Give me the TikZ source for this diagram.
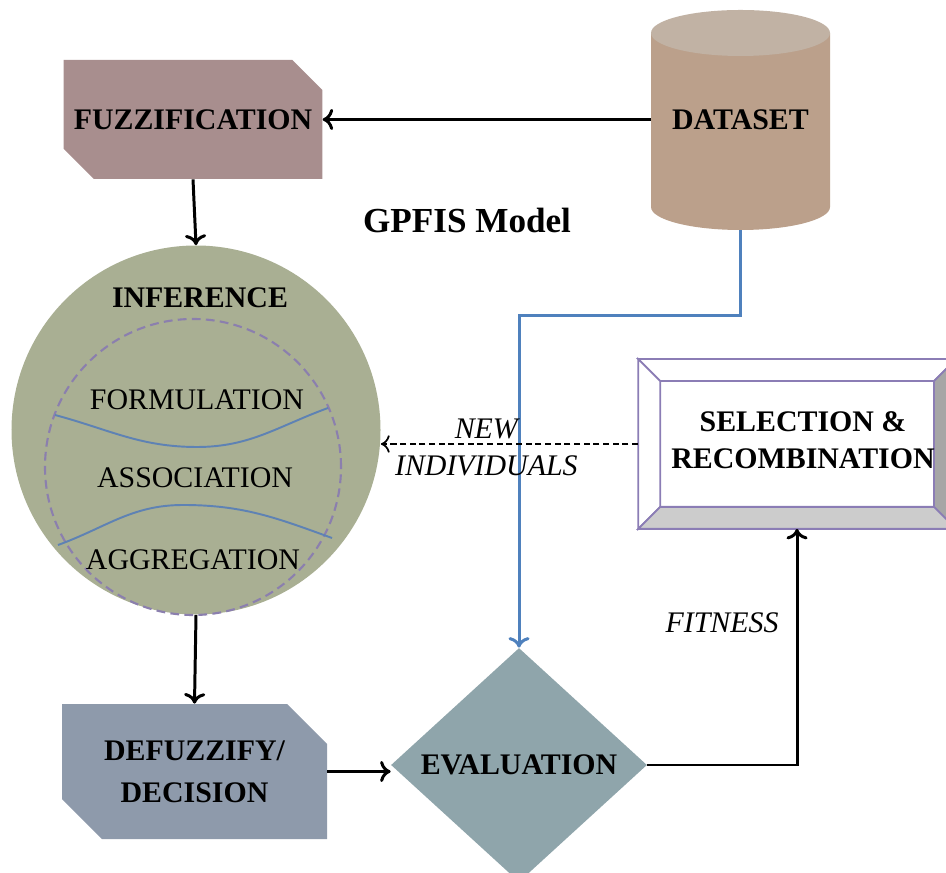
\documentclass[tikz,border=0pt]{standalone}
\usepackage{fontspec}
\setmainfont{Liberation Serif}
\usepackage{xcolor}
\usepackage{tikz}
\usetikzlibrary{shapes.geometric}
\usetikzlibrary{shapes.misc}
\usetikzlibrary{arrows.meta}

\definecolor{fuzzcol}{HTML}{A88E8E}
\definecolor{datacol}{HTML}{BBA08B}
\definecolor{datatop}{HTML}{C1B2A4}
\definecolor{infcol}{HTML}{A9AF93}
\definecolor{dashcol}{HTML}{8B7FAE}
\definecolor{curvecol}{HTML}{5E82B4}
\definecolor{bluecol}{HTML}{4F81BD}
\definecolor{defcol}{HTML}{8E9AAB}
\definecolor{evalcol}{HTML}{8FA5AB}
\definecolor{selcol}{HTML}{8B7DB5}

\tikzset{
  boldlabel/.style={font=\fontsize{17}{21}\selectfont\bfseries, align=center},
  plainlabel/.style={font=\fontsize{17}{21}\selectfont},
  itlabel/.style={font=\fontsize{17}{21}\selectfont\itshape},
  snipbox/.style={chamfered rectangle, chamfered rectangle corners={north east,south west},
    chamfered rectangle xsep=0.4cm, chamfered rectangle ysep=0.4cm, inner sep=0pt},
  flow/.style={line width=1.7pt, -{To[length=6pt,width=12pt]}},
}

\begin{document}
\begin{tikzpicture}
  \useasboundingbox (0,0) rectangle (18.92,17.44);
  % blocks
  \node[snipbox, fill=fuzzcol, minimum width=5.08cm, minimum height=2.38cm, boldlabel] (fuzz) at (3.86,15.05) {FUZZIFICATION};
  % dataset drum
  \fill[datacol] (13.02,16.78) -- (13.02,13.3) arc[start angle=180, end angle=360, x radius=1.79, y radius=0.46] -- (16.6,16.78) -- cycle;
  \fill[datatop] (14.81,16.78) ellipse [x radius=1.79, y radius=0.46];
  \node[boldlabel, minimum width=3.58cm, minimum height=4.4cm] (data) at (14.81,15.04) {DATASET};
  \node[boldlabel, font=\fontsize{20}{22}\selectfont\bfseries] (title) at (9.34,13.04) {GPFIS Model};
  \node[circle, fill=infcol, minimum size=7.38cm] (inf) at (3.92,8.84) {};
  \node[boldlabel] (inftitle) at (4.0,11.48) {INFERENCE};
  \draw[dashcol, line width=1.2pt, dash pattern=on 5pt off 3pt] (3.86,8.1) circle (2.96);
  \draw[curvecol, line width=1.1pt] (1.1,9.14) to[out=-15,in=180] (3.94,8.5) to[out=0,in=200] (6.56,9.28);
  \draw[curvecol, line width=1.1pt] (1.16,6.54) to[out=20,in=180] (3.66,7.34) to[out=0,in=160] (6.64,6.68);
  \node[plainlabel] (form) at (3.94,9.44) {FORMULATION};
  \node[plainlabel] (assoc) at (3.90,7.88) {ASSOCIATION};
  \node[plainlabel] (aggr) at (3.86,6.24) {AGGREGATION};
  \node[snipbox, fill=defcol, minimum width=5.3cm, minimum height=2.7cm, boldlabel, font=\fontsize{17}{24}\selectfont\bfseries] (def) at (3.89,2.01) {DEFUZZIFY/\\DECISION};
  \node[diamond, fill=evalcol, inner sep=0pt, minimum width=5.12cm, minimum height=4.68cm, boldlabel] (eval) at (10.38,2.14) {EVALUATION};
  % selection box with bevels
  \node[draw=selcol, line width=1pt, minimum width=6.32cm, minimum height=3.36cm] (sel) at (15.94,8.56) {};
  \coordinate (selnw) at ([shift={(0.44,-0.44)}]sel.north west);
  \coordinate (selne) at ([shift={(-0.44,-0.44)}]sel.north east);
  \coordinate (selsw) at ([shift={(0.44,0.44)}]sel.south west);
  \coordinate (selse) at ([shift={(-0.44,0.44)}]sel.south east);
  \draw[draw=selcol, line width=1pt, fill=white] (sel.north west) -- (sel.north east) -- (selne) -- (selnw) -- cycle;
  \draw[draw=selcol, line width=1pt, fill=white] (sel.north west) -- (selnw) -- (selsw) -- (sel.south west) -- cycle;
  \draw[draw=selcol, line width=1pt, fill=black!35] (sel.north east) -- (sel.south east) -- (selse) -- (selne) -- cycle;
  \draw[draw=selcol, line width=1pt, fill=black!20] (sel.south west) -- (selsw) -- (selse) -- (sel.south east) -- cycle;
  \node[boldlabel] (seltext) at (16.06,8.64) {SELECTION \&\\RECOMBINATION};
  % connectors
  \draw[flow] (fuzz.east -| data.west) -- (fuzz.east);
  \draw[flow] (fuzz.south) -- (inf.north);
  \draw[flow] (inf.south) -- (def.north);
  \draw[flow] (def.east) -- (def.east -| eval.west);
  \draw[flow] (eval.east) -| (sel.south);
  \draw[bluecol, line width=1.7pt, -{To[length=6pt,width=12pt]}] (data.south) -- ++(0,-1.7) -| (eval.north);
  \draw[line width=1pt, dash pattern=on 3.5pt off 2pt, -{To[length=5pt,width=10pt]}] (sel.west) -- (sel.west -| inf.east)
    node[itlabel, pos=0.59, above=-1pt] (newlbl) {NEW}
    node[itlabel, pos=0.59, below=3pt] (indlbl) {INDIVIDUALS};
  \node[itlabel] (fit) at (14.44,4.98) {FITNESS};
\end{tikzpicture}
\end{document}
